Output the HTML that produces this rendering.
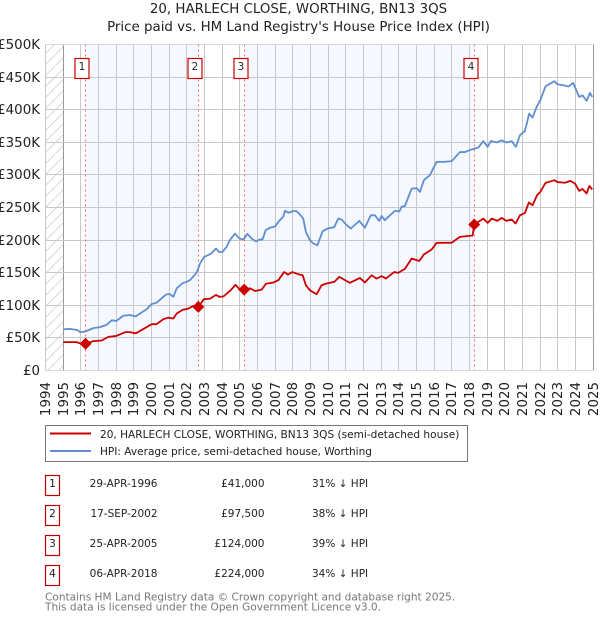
<!DOCTYPE html>
<html>
<head>
<meta charset="utf-8">
<style>
html,body{margin:0;padding:0;background:#fff;}
body{width:600px;height:620px;overflow:hidden;position:relative;}
svg{position:absolute;left:0;top:0;}
text{font-family:"DejaVu Sans","Liberation Sans",sans-serif;}
</style>
</head>
<body>
<svg id="chart" width="600" height="620" viewBox="0 0 600 620" xmlns="http://www.w3.org/2000/svg">
<defs>
<pattern id="hatch" width="11" height="11" patternUnits="userSpaceOnUse">
<line x1="0" y1="11" x2="11" y2="0" stroke="#d8d8d8" stroke-width="1"/>
</pattern>
</defs>
<text x="298.5" y="13" font-size="13.4" text-anchor="middle" fill="#222">20, HARLECH CLOSE, WORTHING, BN13 3QS</text>
<text x="298.5" y="31" font-size="13.4" text-anchor="middle" fill="#222">Price paid vs. HM Land Registry's House Price Index (HPI)</text>
<g id="plot"></g>

<g>
<rect x="45.5" y="425.5" width="422" height="36" fill="#fff" stroke="#777" stroke-width="1"/>
<line x1="50" y1="433.5" x2="91" y2="433.5" stroke="#cc0000" stroke-width="2"/>
<text x="100" y="438" font-size="10.55" fill="#222">20, HARLECH CLOSE, WORTHING, BN13 3QS (semi-detached house)</text>
<line x1="50" y1="451" x2="91" y2="451" stroke="#5f8fd0" stroke-width="2"/>
<text x="100" y="455" font-size="10.55" fill="#222">HPI: Average price, semi-detached house, Worthing</text>
</g>

<g font-size="10.5" fill="#222">
<g>
<rect x="45.5" y="475.5" width="14" height="20" fill="#fff" stroke="#c00000" stroke-width="1.2"/>
<text x="52.5" y="487" text-anchor="middle">1</text>
<text x="157.5" y="487" text-anchor="end">29-APR-1996</text>
<text x="264.5" y="487" text-anchor="end">£41,000</text>
<text x="312" y="487">31% ↓ HPI</text>
</g>
<g>
<rect x="45.5" y="505.5" width="14" height="20" fill="#fff" stroke="#c00000" stroke-width="1.2"/>
<text x="52.5" y="517" text-anchor="middle">2</text>
<text x="157.5" y="517" text-anchor="end">17-SEP-2002</text>
<text x="264.5" y="517" text-anchor="end">£97,500</text>
<text x="312" y="517">38% ↓ HPI</text>
</g>
<g>
<rect x="45.5" y="535.5" width="14" height="20" fill="#fff" stroke="#c00000" stroke-width="1.2"/>
<text x="52.5" y="547" text-anchor="middle">3</text>
<text x="157.5" y="547" text-anchor="end">25-APR-2005</text>
<text x="264.5" y="547" text-anchor="end">£124,000</text>
<text x="312" y="547">39% ↓ HPI</text>
</g>
<g>
<rect x="45.5" y="565.5" width="14" height="20" fill="#fff" stroke="#c00000" stroke-width="1.2"/>
<text x="52.5" y="577" text-anchor="middle">4</text>
<text x="157.5" y="577" text-anchor="end">06-APR-2018</text>
<text x="264.5" y="577" text-anchor="end">£224,000</text>
<text x="312" y="577">34% ↓ HPI</text>
</g>
</g>

<text x="45" y="600.5" font-size="10.55" fill="#777">Contains HM Land Registry data © Crown copyright and database right 2025.</text>
<text x="45" y="610.5" font-size="10.55" fill="#777">This data is licensed under the Open Government Licence v3.0.</text>
</svg>

<script>
var yearLabels = [1994,1995,1996,1997,1998,1999,2000,2001,2002,2003,2004,2005,2006,2007,2008,2009,2010,2011,2012,2013,2014,2015,2016,2017,2018,2019,2020,2021,2022,2023,2024,2025];
var yTickValues = [0,50,100,150,200,250,300,350,400,450,500];
var yTickLabels = ["£0","£50K","£100K","£150K","£200K","£250K","£300K","£350K","£400K","£450K","£500K"];

var hpiDates = [1995,1995.3,1995.55,1995.8,1995.95,1996.13,1996.36,1996.7,1997.08,1997.45,1997.74,1998,1998.4,1998.77,1999.1,1999.43,1999.72,2000,2000.28,2000.66,2000.85,2001.04,2001.23,2001.42,2001.75,2001.98,2002.17,2002.55,2002.74,2002.96,2003.2,2003.4,2003.64,2003.83,2004.02,2004.25,2004.43,2004.72,2004.96,2005.2,2005.42,2005.66,2005.9,2006.13,2006.28,2006.45,2006.7,2007,2007.17,2007.45,2007.55,2007.74,2008,2008.2,2008.4,2008.58,2008.73,2008.96,2009.15,2009.38,2009.68,2010,2010.34,2010.56,2010.75,2011.04,2011.28,2011.75,2012.07,2012.4,2012.64,2012.88,2013.02,2013.2,2013.49,2013.77,2014.02,2014.15,2014.34,2014.53,2014.72,2015,2015.19,2015.41,2015.75,2015.94,2016.13,2016.5,2016.98,2017.45,2017.73,2018.11,2018.49,2018.77,2019.02,2019.2,2019.53,2019.81,2020.09,2020.38,2020.62,2020.85,2021.13,2021.37,2021.56,2021.79,2022,2022.3,2022.8,2022.96,2023.3,2023.58,2023.86,2024.2,2024.39,2024.62,2024.81,2024.94];
var hpiValues = [63,64,63,62,59,59,61,65,66.5,70,77,76,84,85,83,89,94,102,104,113,117,117,113,126,134,136,138.5,150,164,174,177,180,187,181.5,182,190,200,210,202.5,201,209.6,202.5,198,201,201,215,219,221,228,236,245,242,244.4,244.4,239,233,212.6,200,194.8,192,213.6,218,220,233,231.6,222.9,217.8,229.5,219,238,238,229.5,237,230.5,238,244.8,244,251,252.5,266,279,279.6,274,292,299.5,310,320,320,321,335,335,339,342,351.7,343,352,349.7,353,349.7,351.7,343,361,367.5,394,388,404,414.6,436,443.7,439,437.6,435.5,441,419.6,422,413.5,425.8,419.6];

var priceDates = [1995,1995.75,1996.13,1996.26,1996.7,1997.17,1997.55,1998,1998.5,1998.77,1999.1,1999.43,2000,2000.28,2000.66,2000.94,2001.23,2001.42,2001.75,2002.08,2002.36,2002.64,2002.96,2003.3,2003.64,2003.83,2004.06,2004.43,2004.75,2005,2005.24,2005.57,2005.85,2006.23,2006.47,2006.9,2007.17,2007.5,2007.72,2007.96,2008.3,2008.55,2008.73,2008.96,2009.34,2009.62,2009.9,2010.34,2010.62,2011.22,2011.79,2012.07,2012.45,2012.73,2013.02,2013.26,2013.73,2013.96,2014.34,2014.72,2015.15,2015.41,2015.85,2016.13,2016.98,2017.45,2018.17,2018.26,2018.77,2019.02,2019.25,2019.57,2019.81,2020.09,2020.38,2020.6,2020.85,2021.13,2021.35,2021.56,2021.82,2022,2022.3,2022.8,2022.96,2023.4,2023.7,2023.96,2024.2,2024.39,2024.62,2024.78,2024.94];
var priceValues = [43.5,43.5,40,41,45,46,51.6,53,58.8,58.8,57,62,71,71,78.7,81,79.8,87.4,93,95,99,97.5,109.4,110,116,113,113.5,122,131.4,124,124,126,122,124,133,135,138.5,151,147,151,147.7,146,130.8,123,117,130.8,133.4,136,143.6,134.4,142,135,146,141,144.6,141,151,149.7,156,171.8,168,178,185.6,195.7,196,205,207,224,233,226.4,233,229.5,234,229.5,231.6,225.5,238,241.7,257.6,253.5,268.9,274,287.8,291.9,289,288,290.8,286.8,275.5,278.5,271.5,283,277.6];

var saleDates = [1996.26,2002.64,2005.24,2018.26];
var salePrices = [41,97.5,124,224];
var saleLabels = ["1","2","3","4"];

var NS = "http://www.w3.org/2000/svg";
var plot = document.getElementById("plot");
function xAxis(year){ return 63.3 + (year - 1995) * 17.667; }
function yAxis(value){ return 370.5 - value * 0.652; }
function snap(p){ return Math.floor(p) + 0.5; }
function make(tag, attrs, parent){
  var el = document.createElementNS(NS, tag);
  for (var k in attrs) el.setAttribute(k, attrs[k]);
  (parent || plot).appendChild(el);
  return el;
}
function polyPoints(dates, values){
  return dates.map(function(d, i){ return xAxis(d).toFixed(2) + "," + yAxis(values[i]).toFixed(2); }).join(" ");
}
var top_ = yAxis(500), bottom = yAxis(0), left = 45.5, right = 594.5;

var hatchL = make("rect", {x:left, y:top_, width:snap(xAxis(1995))-left, height:bottom-top_, fill:"url(#hatch)"});



[[0,1],[2,3]].forEach(function(p){
  var band = make("rect", {x:xAxis(saleDates[p[0]]), y:top_, width:xAxis(saleDates[p[1]])-xAxis(saleDates[p[0]]), height:bottom-top_, fill:"#f5f8ff"});
  
  
});

yearLabels.forEach(function(yr){
  var x = snap(xAxis(yr));
  if (yr === 1994) x = left;
  var line = make("line", {x1:x, x2:x, y1:top_, y2:bottom, stroke:(yr===1995||yr===2025)?"#999":"#c8c8c8", "stroke-width":1});
  
  
  var label = make("text", {transform:"translate("+(x+4.5)+",382) rotate(-90)", "font-size":13.4, "text-anchor":"end", fill:"#222"});
  
  
  label.textContent = yr;
});

yTickValues.forEach(function(v, i){
  var y = snap(yAxis(v));
  var line = make("line", {x1:left, x2:right, y1:y, y2:y, stroke:(v===0||v===500)?"#d8d8d8":"#c8c8c8", "stroke-width":1});
  
  
  var label = make("text", {x:40, y:y+4.5, "font-size":13.4, "text-anchor":"end", fill:"#222"});
  
  
  label.textContent = yTickLabels[i];
});

saleDates.forEach(function(d){
  var x = snap(xAxis(d));
  var line = make("line", {x1:x, x2:x, y1:top_, y2:bottom, stroke:"#ff6a6a", "stroke-width":1, "stroke-dasharray":"2,3"});
  
  
});

var hpiLine = make("polyline", {points:polyPoints(hpiDates, hpiValues), fill:"none", stroke:"#5f8fd0", "stroke-width":1.8, "stroke-linejoin":"round"});



var priceLine = make("polyline", {points:polyPoints(priceDates, priceValues), fill:"none", stroke:"#cc0000", "stroke-width":1.8, "stroke-linejoin":"round"});



saleDates.forEach(function(d, i){
  var x = xAxis(d), y = yAxis(salePrices[i]), r = 6;
  var m = make("polygon", {points:(x-r)+","+y+" "+x+","+(y-r)+" "+(x+r)+","+y+" "+x+","+(y+r), fill:"#cc0000"});
  
  
  var bx = snap(x) - 10.5;
  var box = make("rect", {x:bx, y:58.5, width:14, height:20, fill:"#fff", stroke:"#cc0000", "stroke-width":1.2});
  
  
  var t = make("text", {x:bx+7, y:70, "font-size":10.5, "text-anchor":"middle", fill:"#222"});
  
  
  t.textContent = saleLabels[i];
});
</script>
</body>
</html>
